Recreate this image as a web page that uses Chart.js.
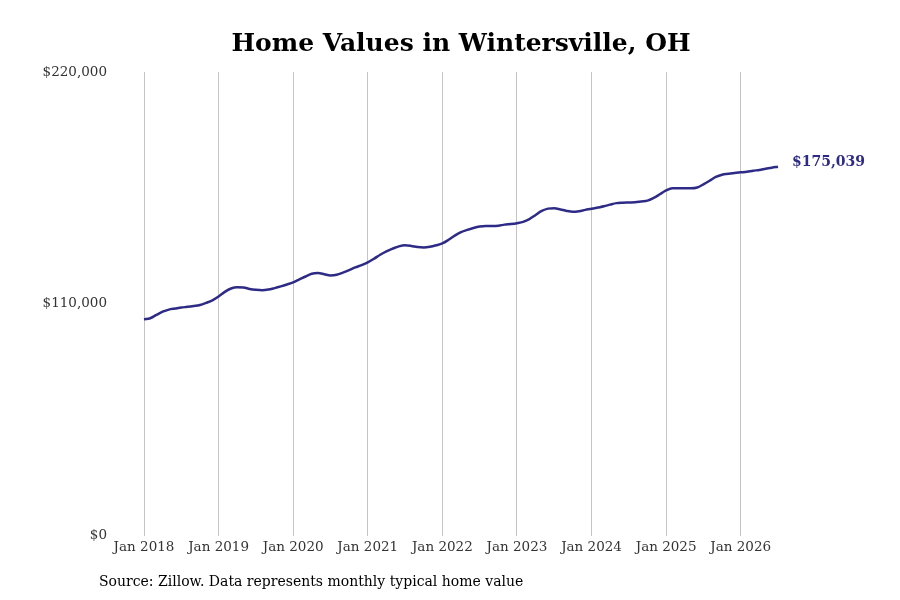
<!DOCTYPE html>
<html>
<head>
<meta charset="utf-8">
<title>Home Values in Wintersville, OH</title>
<script src="https://cdn.jsdelivr.net/npm/chart.js@4.4.0/dist/chart.umd.min.js"></script>
<style>
  html, body { margin: 0; padding: 0; background: #fff; }
  #wrap { width: 900px; height: 600px; }
</style>
</head>
<body>
<div id="wrap"><canvas id="chart1"></canvas></div>
<script>
// Meses y años de la serie
const MESES = ['Jan', 'Feb', 'Mar', 'Apr', 'May', 'Jun', 'Jul', 'Aug', 'Sep', 'Oct', 'Nov', 'Dec'];
const ANIOS = [2018, 2019, 2020, 2021, 2022, 2023, 2024, 2025, 2026];

// Valores mensuales (típico valor de vivienda)
const valores2018 = [102700, 103200, 104800, 106300, 107300, 107800, 108300, 108600, 109000, 109500, 110500, 111700];
const valores2019 = [113500, 115700, 117300, 117900, 117800, 117100, 116700, 116500, 116800, 117500, 118300, 119200];
const valores2020 = [120200, 121600, 123000, 124300, 124600, 124100, 123500, 123800, 124800, 126000, 127300, 128400];
const valores2021 = [129700, 131400, 133300, 134900, 136200, 137300, 137800, 137500, 137000, 136800, 137100, 137800];
const valores2022 = [138700, 140400, 142400, 144000, 145100, 146000, 146700, 147000, 147000, 147100, 147600, 147900];
const valores2023 = [148300, 148900, 150200, 152200, 154100, 155200, 155400, 154800, 154100, 153700, 154000, 154600];
const valores2024 = [155100, 155700, 156300, 157100, 157800, 158000, 158100, 158200, 158600, 159000, 160300, 162000];
const valores2025 = [163800, 164800, 164800, 164800, 164800, 165200, 166700, 168400, 170200, 171300, 171700, 172100];
const valores2026 = [172400, 172700, 173200, 173500, 174100, 174600, 175039];

// Etiquetas del eje
const TICKS_X = ['Jan 2018', 'Jan 2019', 'Jan 2020', 'Jan 2021', 'Jan 2022', 'Jan 2023', 'Jan 2024', 'Jan 2025', 'Jan 2026'];
const TICKS_Y = [0, 110000, 220000];
const ETIQUETA_FINAL = '$175,039';

const TITULO = 'Home Values in Wintersville, OH';
const FUENTE = 'Source: Zillow. Data represents monthly typical home value';

const COLOR_LINEA = '#2e2b86';
const SERIF = "'DejaVu Serif', serif";

// Se arma la serie completa a partir de los arreglos por año
const porAnio = [valores2018, valores2019, valores2020, valores2021, valores2022, valores2023, valores2024, valores2025, valores2026];
let etiquetas = [];
let valores = [];
porAnio.forEach((fila, i) => {
    fila.forEach((v, m) => {
        etiquetas.push(MESES[m] + ' ' + ANIOS[i]);
        valores.push(v);
    });
});

// Plugin para la etiqueta del último valor y la nota de la fuente
const textosExtra = {
    id: 'textosExtra',
    afterDatasetsDraw(chart) {
        const ctx = chart.ctx;
        const meta = chart.getDatasetMeta(0);
        const ultimo = meta.data[meta.data.length - 1];
        ctx.save();
        ctx.fillStyle = COLOR_LINEA;
        ctx.font = "bold 14px " + SERIF;
        ctx.textAlign = 'left';
        ctx.textBaseline = 'middle';
        ctx.fillText(ETIQUETA_FINAL, ultimo.x + 14, ultimo.y - 4);
        ctx.fillStyle = '#000';
        ctx.font = "14px " + SERIF;
        ctx.fillText(FUENTE, 99, 582);
        ctx.restore();
    }
};

const lineGraph = () => {
    const ctx = document.getElementById('chart1').getContext('2d');
    new Chart(ctx, {
        type: 'line',
        data: {
            labels: etiquetas,
            datasets: [{
                data: valores,
                borderColor: COLOR_LINEA,
                borderWidth: 2.5,
                pointRadius: 0,
                tension: 0.4,
                cubicInterpolationMode: 'monotone',
                fill: false
            }]
        },
        options: {
            responsive: true,
            maintainAspectRatio: false,
            animation: false,
            layout: {
                padding: { top: 16, right: 122, bottom: 40, left: 42 }
            },
            plugins: {
                legend: { display: false },
                tooltip: { enabled: false },
                title: {
                    display: true,
                    text: TITULO,
                    fullSize: false,
                    color: '#000',
                    font: { family: SERIF, size: 25, weight: 'bold' },
                    padding: { top: 13, bottom: 13 }
                }
            },
            scales: {
                x: {
                    type: 'category',
                    offset: false,
                    border: { display: false },
                    grid: {
                        color: (c) => (c.index % 12 === 0 ? '#c4c4c4' : 'rgba(0,0,0,0)'),
                        drawTicks: false,
                        lineWidth: 1
                    },
                    ticks: {
                        autoSkip: false,
                        maxRotation: 0,
                        padding: 4,
                        color: '#333',
                        font: { family: SERIF, size: 13.5 },
                        callback: (v, i) => (i % 12 === 0 ? TICKS_X[i / 12] : '')
                    }
                },
                y: {
                    min: 0,
                    max: 220000,
                    border: { display: false },
                    grid: { display: false, drawTicks: false },
                    afterFit: (s) => { s.width = 102; },
                    afterBuildTicks: (s) => { s.ticks = TICKS_Y.map(v => ({ value: v })); },
                    ticks: {
                        padding: 37,
                        color: '#333',
                        font: { family: SERIF, size: 13.5 },
                        callback: (v) => '$' + v.toLocaleString('en-US')
                    }
                }
            }
        },
        plugins: [textosExtra]
    });
};

lineGraph();
</script>
</body>
</html>
